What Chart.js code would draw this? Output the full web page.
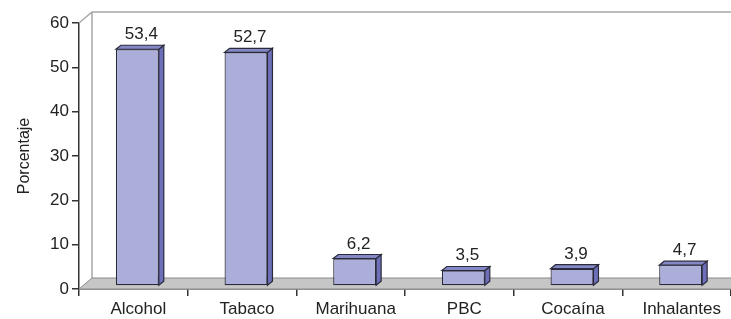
<!DOCTYPE html>
<html>
<head>
<meta charset="utf-8">
<script src="https://cdn.jsdelivr.net/npm/chart.js@4.4.1/dist/chart.umd.min.js"></script>
<style>
html,body{margin:0;padding:0;background:#fff;}
#wrap{width:731px;height:319px;position:relative;}
</style>
</head>
<body>
<div id="wrap"><canvas id="c" width="731" height="319"></canvas></div>
<script>
const categories = ["Alcohol", "Tabaco", "Marihuana", "PBC", "Cocaína", "Inhalantes"];
const values = [53.4, 52.7, 6.2, 3.5, 3.9, 4.7];
const valueLabels = ["53,4", "52,7", "6,2", "3,5", "3,9", "4,7"];
const yTicks = [0, 10, 20, 30, 40, 50, 60];

const FONT = "'Liberation Sans', Arial, sans-serif";
const DEPTH_X = 13, DEPTH_Y = 11;   // wall/floor depth
const BAR_DX = 5, BAR_DY = 4;       // bar depth
const BAR_SHIFT_X = 4, BAR_SHIFT_Y = -3;

const scene3d = {
  id: 'scene3d',
  beforeDatasetsDraw(chart) {
    const {ctx, chartArea: a} = chart;
    const W = chart.width;
    ctx.save();
    // back wall
    ctx.strokeStyle = '#a8a8a8';
    ctx.lineWidth = 1.5;
    ctx.beginPath();
    ctx.moveTo(a.left, a.top);
    ctx.lineTo(a.left + DEPTH_X, a.top - DEPTH_Y);
    ctx.lineTo(W, a.top - DEPTH_Y);
    ctx.moveTo(a.left + DEPTH_X, a.top - DEPTH_Y);
    ctx.lineTo(a.left + DEPTH_X, a.bottom - DEPTH_Y);
    ctx.stroke();
    // floor
    ctx.fillStyle = '#c6c6c6';
    ctx.beginPath();
    ctx.moveTo(a.left, a.bottom);
    ctx.lineTo(a.left + DEPTH_X, a.bottom - DEPTH_Y);
    ctx.lineTo(W + 5, a.bottom - DEPTH_Y);
    ctx.lineTo(W + 5, a.bottom);
    ctx.closePath();
    ctx.fill();
    ctx.strokeStyle = '#8a8a8a';
    ctx.lineWidth = 1;
    ctx.stroke();
    ctx.restore();
    ctx.save();
    ctx.translate(BAR_SHIFT_X, BAR_SHIFT_Y);
  },
  afterDatasetsDraw(chart) {
    const {ctx} = chart;
    const meta = chart.getDatasetMeta(0);
    meta.data.forEach((bar, i) => {
      const {x, y, base, width} = bar.getProps(['x','y','base','width'], true);
      const l = x - width/2, r = x + width/2;
      ctx.lineWidth = 1.2;
      ctx.strokeStyle = '#2a2a3a';
      // side face
      ctx.fillStyle = '#6d70b8';
      ctx.beginPath();
      ctx.moveTo(r, y); ctx.lineTo(r + BAR_DX, y - BAR_DY);
      ctx.lineTo(r + BAR_DX, base - BAR_DY); ctx.lineTo(r, base);
      ctx.closePath(); ctx.fill(); ctx.stroke();
      // top face
      ctx.fillStyle = '#8588c6';
      ctx.beginPath();
      ctx.moveTo(l, y); ctx.lineTo(l + BAR_DX, y - BAR_DY);
      ctx.lineTo(r + BAR_DX, y - BAR_DY); ctx.lineTo(r, y);
      ctx.closePath(); ctx.fill(); ctx.stroke();
      // value label
      ctx.fillStyle = '#222';
      ctx.font = '17px ' + FONT;
      ctx.textAlign = 'center';
      ctx.textBaseline = 'alphabetic';
      ctx.fillText(valueLabels[i], x + 4, y - BAR_DY - 6);
    });
    ctx.restore();
  }
};

new Chart(document.getElementById('c'), {
  type: 'bar',
  data: {
    labels: categories,
    datasets: [{
      data: values,
      backgroundColor: '#aaaed8',
      borderColor: '#2a2a3a',
      borderWidth: 1.2,
      borderSkipped: false,
      categoryPercentage: 1,
      barPercentage: 0.395
    }]
  },
  options: {
    responsive: false,
    animation: false,
    devicePixelRatio: 1,
    layout: {padding: {top: 23, right: -5, bottom: 0, left: 0}},
    plugins: {legend: {display: false}, tooltip: {enabled: false}},
    scales: {
      y: {
        min: 0, max: 60,
        afterFit(axis) { axis.width = 79; },
        afterBuildTicks(axis) { axis.ticks = yTicks.map(v => ({value: v})); },
        ticks: {color: '#222', font: {size: 17, family: FONT}, padding: 3},
        grid: {drawOnChartArea: false, tickLength: 7, color: '#333', lineWidth: 1.5},
        border: {color: '#333', width: 1.5},
        title: {display: true, text: 'Porcentaje', color: '#222', font: {size: 16, family: FONT}, padding: {top: 15, bottom: 10}}
      },
      x: {
        afterFit(axis) { axis.height = 30; },
        ticks: {color: '#222', font: {size: 17, family: FONT}, padding: 3, labelOffset: 5},
        grid: {offset: true, drawOnChartArea: false, tickLength: 7, color: '#333', lineWidth: 1.5},
        border: {color: '#333', width: 1.5}
      }
    }
  },
  plugins: [scene3d]
});
</script>
</body>
</html>
